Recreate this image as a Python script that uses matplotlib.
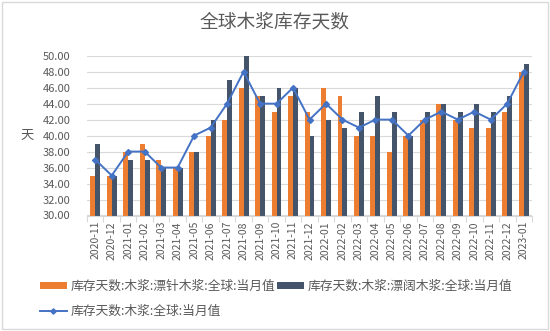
import matplotlib
matplotlib.use("Agg")
import matplotlib.pyplot as plt
import numpy as np
from matplotlib.patches import Rectangle

plt.rcParams['font.family'] = ['Noto Sans CJK SC', 'DejaVu Sans']

months = ["2020-11", "2020-12", "2021-01", "2021-02", "2021-03", "2021-04", "2021-05",
          "2021-06", "2021-07", "2021-08", "2021-09", "2021-10", "2021-11", "2021-12",
          "2022-01", "2022-02", "2022-03", "2022-04", "2022-05", "2022-06", "2022-07",
          "2022-08", "2022-09", "2022-10", "2022-11", "2022-12", "2023-01"]
softwood = [35, 35, 38, 39, 37, 36, 38, 40, 42, 46, 45, 43, 45, 43,
            46, 45, 40, 40, 38, 40, 42, 44, 42, 41, 41, 43, 48]
hardwood = [39, 35, 37, 37, 36, 36, 38, 42, 47, 50, 45, 46, 46, 40,
            42, 41, 43, 45, 43, 40, 43, 44, 43, 44, 43, 45, 49]
total = [37, 35, 38, 38, 36, 36, 40, 41, 44, 48, 44, 44, 46, 42,
         44, 42, 41, 42, 42, 40, 42, 43, 42, 43, 42, 44, 48]

name_soft = "库存天数:木浆:漂针木浆:全球:当月值"
name_hard = "库存天数:木浆:漂阔木浆:全球:当月值"
name_total = "库存天数:木浆:全球:当月值"

ORANGE = "#ED7D31"
SLATE = "#44546A"
BLUE = "#4472C4"
GRID = "#D9D9D9"
TEXT = "#595959"

fig = plt.figure(figsize=(5.5, 3.31), dpi=100)
fig.patches.append(Rectangle((0.004, 0.006), 0.992, 0.988, transform=fig.transFigure,
                             fill=False, edgecolor=GRID, linewidth=1.0))
ax = fig.add_axes([87 / 550, 1 - 215.5 / 331, (532 - 87) / 550, (215.5 - 55.7) / 331])

x = np.arange(len(months))
w = 0.3
b1 = ax.bar(x - w / 2, softwood, width=w, color=ORANGE, label=name_soft, zorder=2)
b2 = ax.bar(x + w / 2, hardwood, width=w, color=SLATE, label=name_hard, zorder=2)
l1, = ax.plot(x, total, color=BLUE, linewidth=1.4, marker="D", markersize=3,
              label=name_total, zorder=3)

ax.set_ylim(30, 50)
ax.set_yticks(np.arange(30, 50.1, 2))
ax.set_yticklabels([f"{v:.2f}" for v in np.arange(30, 50.1, 2)])
ax.set_xlim(-0.5, len(months) - 0.5)
ax.set_xticks(x)
ax.set_xticklabels(months, rotation=90)
ax.set_xticks(np.arange(-0.5, len(months)), minor=True)
ax.tick_params(axis="x", which="major", length=0, pad=4, labelsize=7.5, colors=TEXT)
ax.tick_params(axis="x", which="minor", length=4, color=GRID, width=0.8)
ax.tick_params(axis="y", length=0, pad=12, labelsize=8, colors=TEXT)

ax.grid(axis="y", color=GRID, linewidth=0.8, zorder=0)
ax.set_axisbelow(True)
for s in ("top", "right", "left"):
    ax.spines[s].set_visible(False)
ax.spines["bottom"].set_color(GRID)
ax.spines["bottom"].set_linewidth(0.8)

ax.set_ylabel("天", rotation=0, fontsize=9.5, color=TEXT, va="center")
ax.yaxis.set_label_coords(-0.135, 0.5)

fig.text(0.5, 1 - 22 / 331, "全球木浆库存天数", ha="center", va="center",
         fontsize=13.5, color=TEXT)

leg = fig.legend([b1, l1, b2], [name_soft, name_total, name_hard], ncol=2,
                 loc="upper left", bbox_to_anchor=(40 / 550, 1 - 280 / 331),
                 frameon=False, fontsize=9.2, handlelength=2.1, handleheight=0.45,
                 handletextpad=0.3, columnspacing=0.1, labelspacing=0.95,
                 borderaxespad=0, borderpad=0, numpoints=1, markerscale=0.9)
for t in leg.get_texts():
    t.set_color(TEXT)

fig.savefig("out.png", dpi=100)
